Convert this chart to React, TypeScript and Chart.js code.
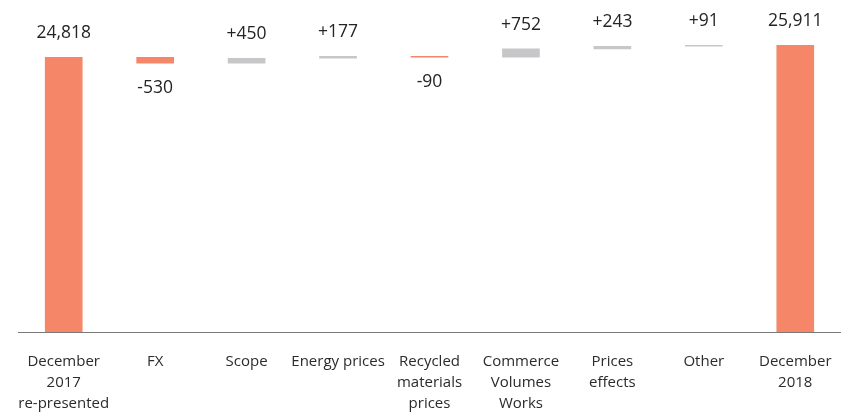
import React, { useEffect, useRef } from "react";
import { Chart, registerables } from "chart.js";

Chart.register(...registerables);

const categories: (string | string[])[] = [
  ["December", "2017", "re-presented"],
  "FX",
  "Scope",
  "Energy prices",
  ["Recycled", "materials", "prices"],
  ["Commerce", "Volumes", "Works"],
  ["Prices", "effects"],
  "Other",
  ["December", "2018"],
];

const kinds = ["total", "delta", "delta", "delta", "delta", "delta", "delta", "delta", "total"];

const values = [24818, -530, 450, 177, -90, 752, 243, 91, 25911];

const valueLabels = ["24,818", "-530", "+450", "+177", "-90", "+752", "+243", "+91", "25,911"];

const ORANGE = "#F58768";
const GRAY = "#C7C7C9";

function buildRanges(): [number, number][] {
  let running = 0;
  return values.map((v, i) => {
    if (kinds[i] === "total") {
      running = v;
      return [0, v] as [number, number];
    }
    const r: [number, number] = [running, running + v];
    running += v;
    return r;
  });
}

const valueLabelPlugin = {
  id: "valueLabels",
  afterDatasetsDraw(chart: any) {
    const ctx = chart.ctx;
    const meta = chart.getDatasetMeta(0);
    meta.data.forEach((bar: any, i: number) => {
      const { x, y, base } = bar.getProps(["x", "y", "base"], true);
      const top = Math.min(y, base);
      const bottom = Math.max(y, base);
      const neg = kinds[i] === "delta" && values[i] < 0;
      ctx.save();
      ctx.font = '17.5px "Open Sans"';
      ctx.fillStyle = "#242424";
      ctx.textAlign = "center";
      ctx.textBaseline = "middle";
      ctx.fillText(valueLabels[i], x, neg ? bottom + 25 : top - 24);
      ctx.restore();
    });
  },
};

export default function App() {
  const ref = useRef<HTMLCanvasElement | null>(null);

  useEffect(() => {
    if (!ref.current) return;
    const ranges = buildRanges();
    const colors = values.map((v, i) => (kinds[i] === "total" || v < 0 ? ORANGE : GRAY));
    const chart = new Chart(ref.current, {
      type: "bar",
      data: {
        labels: categories as any,
        datasets: [
          {
            data: ranges as any,
            backgroundColor: colors,
            borderWidth: 0,
            barThickness: 37,
          },
        ],
      },
      options: {
        responsive: false,
        animation: false,
        layout: { padding: { left: 18, right: 0, top: 0, bottom: 0 } },
        plugins: {
          legend: { display: false },
          tooltip: { enabled: false },
        },
        scales: {
          x: {
            grid: { display: false, drawTicks: false },
            border: { display: true, color: "#7a7a7a", width: 1 },
            ticks: {
              font: { family: "Open Sans", size: 15, lineHeight: 1.4 },
              color: "#2b2b2b",
              padding: 19,
              maxRotation: 0,
              autoSkip: false,
            },
            afterFit: (s: any) => {
              s.height = 82;
              s.paddingLeft = 0;
              s.paddingRight = 0;
            },
          },
          y: {
            display: false,
            min: 0,
            max: 30000,
          },
        },
      },
      plugins: [valueLabelPlugin],
    });
    return () => chart.destroy();
  }, []);

  return (
    <div style={{ position: "absolute", left: 0, top: 0, width: 841, height: 414, background: "#fff" }}>
      <canvas ref={ref} width={841} height={414} />
    </div>
  );
}
